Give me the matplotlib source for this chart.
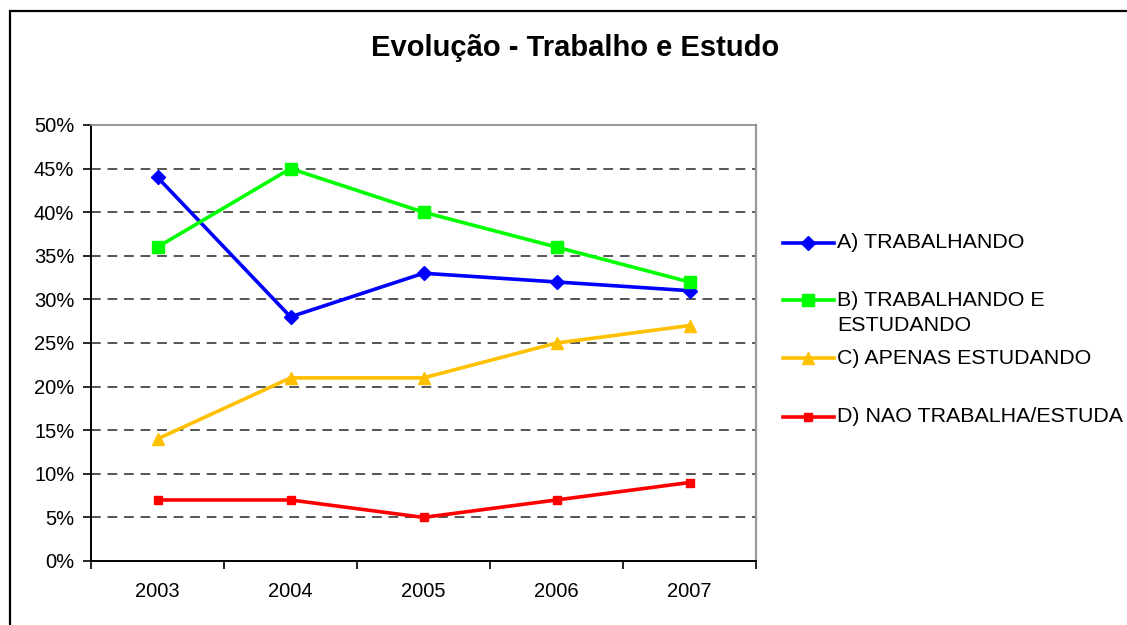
import matplotlib
matplotlib.use("Agg")
import matplotlib.pyplot as plt
from matplotlib.lines import Line2D
from matplotlib.patches import Rectangle
from matplotlib.ticker import FixedLocator, NullFormatter, FixedFormatter

plt.rcParams['font.family'] = ['Liberation Sans', 'DejaVu Sans']

years = ["2003", "2004", "2005", "2006", "2007"]
trabalhando = [44, 28, 33, 32, 31]
trab_estudando = [36, 45, 40, 36, 32]
apenas_estudando = [14, 21, 21, 25, 27]
nao_trab_estuda = [7, 7, 5, 7, 9]

labels = ["A) TRABALHANDO", "B) TRABALHANDO E\nESTUDANDO", "C) APENAS ESTUDANDO", "D) NAO TRABALHA/ESTUDA"]
series = [trabalhando, trab_estudando, apenas_estudando, nao_trab_estuda]
colors = ["#0000FF", "#00FF00", "#FFC000", "#FF0000"]
markers = ["D", "s", "^", "s"]
msizes = [7, 9, 9, 6]

W, H = 1127, 625
fig = plt.figure(figsize=(W / 100, H / 100), dpi=100)
ax = fig.add_axes([91 / W, 1 - 561 / H, (756 - 91) / W, (561 - 125) / H])

x = list(range(len(years)))
for vals, c, m, ms in zip(series, colors, markers, msizes):
    ax.plot(x, vals, color=c, lw=2.6, marker=m, markersize=ms, markeredgecolor=c,
            markerfacecolor=c, zorder=3)

ax.set_xlim(-0.5, len(years) - 0.5)
ax.set_ylim(0, 50)
ax.xaxis.set_major_locator(FixedLocator([i - 0.5 for i in range(len(years) + 1)]))
ax.xaxis.set_major_formatter(NullFormatter())
ax.xaxis.set_minor_locator(FixedLocator(x))
ax.xaxis.set_minor_formatter(FixedFormatter(years))
ax.tick_params(axis='x', which='major', direction='out', length=6, width=1.2, color='black')
ax.tick_params(axis='x', which='minor', length=0, pad=15, labelsize=14.5)
ax.set_yticks(range(0, 51, 5))
ax.set_yticklabels([f"{v}%" for v in range(0, 51, 5)])
ax.tick_params(axis='y', direction='out', length=6, width=1.2, pad=6, labelsize=14.5)

for v in range(5, 50, 5):
    ax.axhline(v, color='#555555', lw=1.4, ls=(0, (5, 3.5)), zorder=1)

ax.spines['left'].set_color('black')
ax.spines['left'].set_linewidth(1.4)
ax.spines['bottom'].set_color('black')
ax.spines['bottom'].set_linewidth(1.4)
ax.spines['right'].set_color('#999999')
ax.spines['right'].set_linewidth(1.6)
ax.spines['top'].set_color('#888888')
ax.spines['top'].set_linewidth(1.2)

fig.text(575 / W, 1 - 48 / H, "Evolução - Trabalho e Estudo", ha='center', va='center',
         fontsize=21, fontweight='bold')

# legend
leg_y = [243, 300, 358, 417]
for lab, c, m, ms, yy in zip(labels, colors, markers, msizes, leg_y):
    fy = 1 - yy / H
    fig.add_artist(Line2D([783 / W, 834 / W], [fy, fy], transform=fig.transFigure,
                          color=c, lw=2.6))
    fig.add_artist(Line2D([808 / W], [fy], transform=fig.transFigure, color=c,
                          marker=m, markersize=ms, markeredgecolor=c, markerfacecolor=c))
    for i, line in enumerate(lab.split("\n")):
        fig.text(837 / W, 1 - (yy + i * 26) / H, line, ha='left', va='center', fontsize=15.4)

# outer frame
fig.add_artist(Rectangle((10 / W, -0.1), 1.2, 1 - 11 / H + 0.1, transform=fig.transFigure,
                         fill=False, edgecolor='black', lw=1.6))

fig.savefig("out.png", dpi=100)
